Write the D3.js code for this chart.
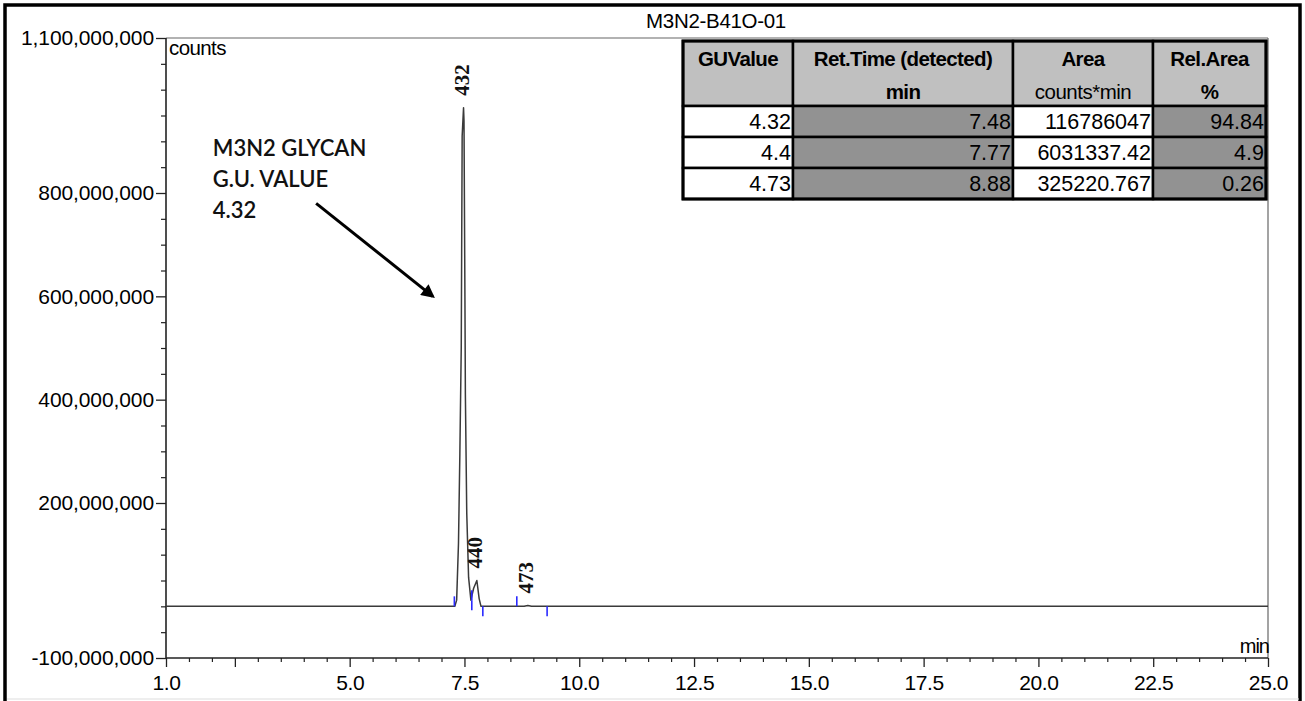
<!DOCTYPE html>
<html>
<head>
<meta charset="utf-8">
<script src="https://cdn.jsdelivr.net/npm/d3@7"></script>
<style>
  html, body { margin: 0; padding: 0; background: #fff; }
  svg { display: block; }
</style>
</head>
<body>
<svg id="chart" width="1305" height="701"></svg>
<script>
// ---------------- DATA ----------------
const chartTitle = "M3N2-B41O-01";

// chromatogram trace: retention time (min) and signal (counts)
const traceTime   = [1.0, 7.29, 7.33, 7.37, 7.40, 7.43, 7.45, 7.48, 7.49, 7.51, 7.52, 7.55, 7.59, 7.64, 7.70, 7.77, 7.82, 7.86, 8.80, 8.88, 8.96, 25.0];
const traceSignal = [0, 0, 12e6, 122e6, 296e6, 500e6, 910e6, 965e6, 940e6, 600e6, 410e6, 180e6, 56e6, 12e6, 35e6, 50e6, 15e6, 0, 0, 1.5e6, 0, 0];

// peak labels (GU x100)
const peakTimes  = [7.48, 7.77, 8.88];
const peakHeights = [965e6, 50e6, 1.5e6];
const peakLabels = ["432", "440", "473"];

// integration markers (blue)
const markerTimes  = [7.28, 7.66, 7.66, 7.90, 8.64, 9.30];
const markerLevels = [0, 12e6, 12e6, 0, 0, 0];
const markerKinds  = ["start", "start", "end", "end", "start", "end"];

// axes
const xDomain = [1, 25];
const yDomain = [-100e6, 1100e6];
const xMajorTicks = [1, 2.5, 5, 7.5, 10, 12.5, 15, 17.5, 20, 22.5, 25];
const xTickLabels = ["1.0", "", "5.0", "7.5", "10.0", "12.5", "15.0", "17.5", "20.0", "22.5", "25.0"];
const yLabelTicks = [1100e6, 800e6, 600e6, 400e6, 200e6, -100e6];
const yTickLabels = ["1,100,000,000", "800,000,000", "600,000,000", "400,000,000", "200,000,000", "-100,000,000"];

// results table
const tableHeader1 = ["GUValue", "Ret.Time (detected)", "Area", "Rel.Area"];
const tableHeader2 = ["", "min", "counts*min", "%"];
const guValues = ["4.32", "4.4", "4.73"];
const retTimes = ["7.48", "7.77", "8.88"];
const areas    = ["116786047", "6031337.42", "325220.767"];
const relAreas = ["94.84", "4.9", "0.26"];

// annotation (data coordinates)
const annotationLines = ["M3N2 GLYCAN", "G.U. VALUE", "4.32"];
const annotationAt = [2.02, 872e6];
const arrowFrom = [4.27, 780e6];
const arrowTo   = [6.81, 600e6];

// ---------------- DRAW ----------------
const svg = d3.select("#chart");
const W = 1305, H = 701;
const plot = { left: 166, right: 1268, top: 38, bottom: 658 };

const x = d3.scaleLinear().domain(xDomain).range([plot.left, plot.right]);
const y = d3.scaleLinear().domain(yDomain).range([plot.bottom, plot.top]);

svg.append("rect").attr("x", 0).attr("y", 0).attr("width", W).attr("height", H).attr("fill", "#fff");
// outer frame
svg.append("rect").attr("x", 5).attr("y", 5).attr("width", 1295).attr("height", 703)
  .attr("fill", "none").attr("stroke", "#000").attr("stroke-width", 3.5);
svg.append("line").attr("x1", 7).attr("x2", 1299).attr("y1", 699).attr("y2", 699)
  .attr("stroke", "#ddd").attr("stroke-width", 1);

const fontAxis = "Liberation Sans, Arial, sans-serif";

// title
svg.append("text").attr("x", 716).attr("y", 28).attr("text-anchor", "middle")
  .attr("font-family", fontAxis).attr("font-size", 20.5)
  .attr("letter-spacing", -0.3).attr("fill", "#000").text(chartTitle);

// plot frame top & right
svg.append("line").attr("x1", plot.left).attr("x2", plot.right).attr("y1", plot.top).attr("y2", plot.top)
  .attr("stroke", "#666").attr("stroke-width", 1.2);
svg.append("line").attr("x1", plot.right).attr("x2", plot.right).attr("y1", plot.top).attr("y2", plot.bottom)
  .attr("stroke", "#666").attr("stroke-width", 1.2);

// X axis minor ticks
const xMinor = d3.range(xDomain[0], xDomain[1] + 0.001, 0.5).filter(v => !xMajorTicks.includes(v));
const gxMinor = svg.append("g").attr("transform", `translate(0,${plot.bottom})`)
  .call(d3.axisBottom(x).tickValues(xMinor).tickSize(4).tickFormat(""));
gxMinor.select(".domain").remove();
gxMinor.selectAll("line").attr("stroke", "#222").attr("stroke-width", 1.2);

// X axis major
const gx = svg.append("g").attr("transform", `translate(0,${plot.bottom})`)
  .call(d3.axisBottom(x).tickValues(xMajorTicks).tickSize(9).tickPadding(8)
    .tickFormat((d, i) => xTickLabels[i]));
gx.select(".domain").remove();
gx.selectAll("line").attr("stroke", "#222").attr("stroke-width", 1.3);
gx.selectAll("text").attr("font-family", fontAxis).attr("font-size", 21)
  .attr("letter-spacing", -0.4).attr("fill", "#000");

// Y axis minor
const yMinor = d3.range(yDomain[0], yDomain[1] + 1, 50e6).filter(v => !yLabelTicks.includes(v));
const gyMinor = svg.append("g").attr("transform", `translate(${plot.left},0)`)
  .call(d3.axisLeft(y).tickValues(yMinor).tickSize(5).tickFormat(""));
gyMinor.select(".domain").remove();
gyMinor.selectAll("line").attr("stroke", "#222").attr("stroke-width", 1.2);

// Y axis labelled
const gy = svg.append("g").attr("transform", `translate(${plot.left},0)`)
  .call(d3.axisLeft(y).tickValues(yLabelTicks).tickSize(10).tickPadding(2)
    .tickFormat((d, i) => yTickLabels[i]));
gy.select(".domain").remove();
gy.selectAll("line").attr("stroke", "#222").attr("stroke-width", 1.3);
gy.selectAll("text").attr("font-family", fontAxis).attr("font-size", 21)
  .attr("letter-spacing", -0.1).attr("fill", "#000");

// axis lines
svg.append("line").attr("x1", plot.left).attr("x2", plot.left).attr("y1", plot.top).attr("y2", plot.bottom)
  .attr("stroke", "#222").attr("stroke-width", 1.6);
svg.append("line").attr("x1", plot.left).attr("x2", plot.right).attr("y1", plot.bottom).attr("y2", plot.bottom)
  .attr("stroke", "#222").attr("stroke-width", 1.6);

// unit labels
svg.append("text").attr("x", plot.left + 3).attr("y", 55)
  .attr("font-family", fontAxis).attr("font-size", 20.5).attr("letter-spacing", -0.6)
  .attr("fill", "#000").text("counts");
svg.append("text").attr("x", plot.right + 1).attr("y", 653).attr("text-anchor", "end")
  .attr("font-family", fontAxis).attr("font-size", 20).attr("letter-spacing", -1)
  .attr("fill", "#000").text("min");

// trace
const traceData = traceTime.map((t, i) => ({ t, v: traceSignal[i] }));
svg.append("path").datum(traceData)
  .attr("d", d3.line().x(d => x(d.t)).y(d => y(d.v)))
  .attr("fill", "none").attr("stroke", "#3a3a3a").attr("stroke-width", 1.5)
  .attr("stroke-linejoin", "round");

// integration markers
const markers = markerTimes.map((t, i) => ({ t, v: markerLevels[i], k: markerKinds[i] }));
svg.append("g").selectAll("line").data(markers).join("line")
  .attr("x1", d => x(d.t)).attr("x2", d => x(d.t))
  .attr("y1", d => y(d.v))
  .attr("y2", d => d.k === "start" ? y(d.v) - 10 : y(d.v) + 10)
  .attr("stroke", "#2a2aff").attr("stroke-width", 1.6);

// peak labels
const peaks = peakTimes.map((t, i) => ({ t, h: peakHeights[i], label: peakLabels[i] }));
svg.append("g").selectAll("text").data(peaks).join("text")
  .attr("transform", d => `translate(${x(d.t) + 5},${y(d.h) - 12}) rotate(-90)`)
  .attr("font-family", "Liberation Serif, Times New Roman, serif")
  .attr("font-weight", "bold").attr("font-size", 21).attr("fill", "#111")
  .text(d => d.label);

// annotation text
svg.append("g").selectAll("text").data(annotationLines).join("text")
  .attr("x", x(annotationAt[0]))
  .attr("y", (d, i) => y(annotationAt[1]) + i * 31)
  .attr("font-family", "Lato, Open Sans, sans-serif").attr("font-size", 22)
  .attr("font-weight", 600).attr("fill", "#111")
  .text(d => d);

// arrow
const defs = svg.append("defs");
defs.append("marker").attr("id", "ah").attr("viewBox", "0 0 10 10")
  .attr("refX", 8).attr("refY", 5).attr("markerWidth", 5).attr("markerHeight", 4.5)
  .attr("orient", "auto").attr("markerUnits", "strokeWidth")
  .append("path").attr("d", "M0,0 L10,5 L0,10 Z").attr("fill", "#000");
svg.append("line")
  .attr("x1", x(arrowFrom[0])).attr("y1", y(arrowFrom[1]))
  .attr("x2", x(arrowTo[0])).attr("y2", y(arrowTo[1]))
  .attr("stroke", "#000").attr("stroke-width", 3).attr("marker-end", "url(#ah)");

// ---------------- TABLE ----------------
const tbl = { left: 683, top: 41, headH: 65, rowH: 31 };
const colW = [110, 220, 140, 113];
const colX = colW.map((w, i) => tbl.left + d3.sum(colW.slice(0, i)));
const tableW = d3.sum(colW);
const tableRows = guValues.map((g, i) => [g, retTimes[i], areas[i], relAreas[i]]);
const dataFill = ["#ffffff", "#929292", "#ffffff", "#929292"];
const tg = svg.append("g");

// header cells
tg.selectAll("rect.h").data(colW).join("rect").attr("class", "h")
  .attr("x", (d, i) => colX[i]).attr("y", tbl.top).attr("width", d => d).attr("height", tbl.headH)
  .attr("fill", "#c0c0c0").attr("stroke", "#000").attr("stroke-width", 2.5);
// data cells
tableRows.forEach((row, r) => {
  tg.selectAll(null).data(row).join("rect")
    .attr("x", (d, i) => colX[i]).attr("y", tbl.top + tbl.headH + r * tbl.rowH)
    .attr("width", (d, i) => colW[i]).attr("height", tbl.rowH)
    .attr("fill", (d, i) => dataFill[i]).attr("stroke", "#000").attr("stroke-width", 2.5);
  tg.selectAll(null).data(row).join("text")
    .attr("x", (d, i) => colX[i] + colW[i] - 2)
    .attr("y", tbl.top + tbl.headH + r * tbl.rowH + 23)
    .attr("text-anchor", "end")
    .attr("font-family", fontAxis).attr("font-size", 21.5).attr("letter-spacing", 0)
    .attr("fill", "#000").text(d => d);
});
// outer table border
tg.append("rect").attr("x", tbl.left).attr("y", tbl.top).attr("width", tableW)
  .attr("height", tbl.headH + tableRows.length * tbl.rowH)
  .attr("fill", "none").attr("stroke", "#000").attr("stroke-width", 3);
// header texts
tg.selectAll("text.h1").data(tableHeader1).join("text").attr("class", "h1")
  .attr("x", (d, i) => colX[i] + colW[i] / 2).attr("y", tbl.top + 25)
  .attr("text-anchor", "middle").attr("font-family", fontAxis).attr("font-size", 20.5)
  .attr("font-weight", "bold").attr("letter-spacing", -0.6).attr("fill", "#000").text(d => d);
tg.selectAll("text.h2").data(tableHeader2).join("text").attr("class", "h2")
  .attr("x", (d, i) => colX[i] + colW[i] / 2).attr("y", tbl.top + 58)
  .attr("text-anchor", "middle").attr("font-family", fontAxis).attr("font-size", 20.5)
  .attr("font-weight", (d, i) => i === 2 ? "normal" : "bold").attr("letter-spacing", (d, i) => i === 2 ? -0.5 : -0.6)
  .attr("fill", "#000").text(d => d);
</script>
</body>
</html>
